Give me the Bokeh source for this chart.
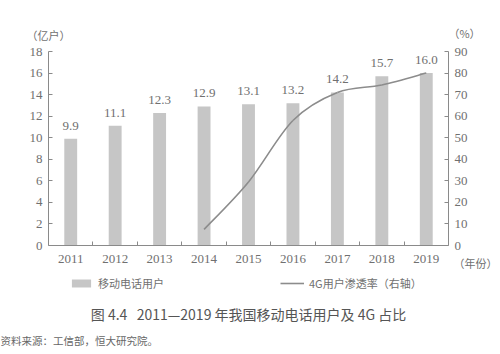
from bokeh.plotting import figure
from bokeh.models import (Range1d, LinearAxis, FixedTicker, Label, Legend,
                          LegendItem, ColumnDataSource)
from bokeh.core.properties import value
from bokeh.embed import file_html
from bokeh.resources import INLINE

# ---- data ----
years = ["2011", "2012", "2013", "2014", "2015", "2016", "2017", "2018", "2019"]
users = [9.9, 11.1, 12.3, 12.9, 13.1, 13.2, 14.2, 15.7, 16.0]          # 亿户
pen_years = ["2014", "2015", "2016", "2017", "2018", "2019"]
penetration = [7.5, 29.5, 58.0, 71.0, 74.5, 80.0]                      # %
left_ticks = [0, 2, 4, 6, 8, 10, 12, 14, 16, 18]
right_ticks = [0, 10, 20, 30, 40, 50, 60, 70, 80, 90]
user_labels = ["%.1f" % v for v in users]

SERIF = "Liberation Serif"
CJK = "Noto Sans CJK SC"
TXT = "#707070"
AX = "#8a8a8a"
BAR = "#c6c6c6"
LINE = "#8c8c8c"

# ---- layout geometry (pixels): plot area inside the 500x354 canvas ----
W, H = 500, 354
AREA_L, AREA_R, AREA_T, AREA_B = 48, 448, 51, 245
ncat = len(years)
kx = (AREA_R - AREA_L) / ncat
x_lo = -0.5 - AREA_L / kx
x_hi = ncat - 0.5 + (W - AREA_R) / kx
LMAX, RMAX = left_ticks[-1], right_ticks[-1]
ky_l = (AREA_B - AREA_T) / LMAX
ky_r = (AREA_B - AREA_T) / RMAX

p = figure(width=W, height=H, output_backend="svg", toolbar_location=None,
           x_range=Range1d(x_lo, x_hi),
           y_range=Range1d(-(H - AREA_B) / ky_l, LMAX + AREA_T / ky_l),
           min_border=0)
p.extra_y_ranges = {"pct": Range1d(-(H - AREA_B) / ky_r, RMAX + AREA_T / ky_r)}
p.outline_line_color = None
p.xgrid.visible = False
p.ygrid.visible = False
p.background_fill_color = "white"
p.border_fill_color = "white"

xpos = list(range(ncat))
src = ColumnDataSource(dict(x=xpos, top=users, lab=user_labels))
bars = p.vbar(x="x", top="top", width=0.29, source=src, fill_color=BAR,
              line_color=None)
p.text(x="x", y="top", text="lab", source=src, text_align="center",
       text_baseline="middle", y_offset=-13, text_font=value(SERIF),
       text_font_size="13px", text_color=TXT)

# smooth penetration curve through the data points (Catmull-Rom -> Bezier)
px = [years.index(y) for y in pen_years]
py = penetration
n = len(px)
x0s, y0s, x1s, y1s, cx0s, cy0s, cx1s, cy1s = [], [], [], [], [], [], [], []
for i in range(n - 1):
    pxm, pym = (px[i - 1], py[i - 1]) if i > 0 else (px[i], py[i])
    pxp, pyp = (px[i + 2], py[i + 2]) if i + 2 < n else (px[i + 1], py[i + 1])
    x0s.append(px[i]); y0s.append(py[i])
    x1s.append(px[i + 1]); y1s.append(py[i + 1])
    cx0s.append(px[i] + (px[i + 1] - pxm) / 6.0)
    cy0s.append(py[i] + (py[i + 1] - pym) / 6.0)
    cx1s.append(px[i + 1] - (pxp - px[i]) / 6.0)
    cy1s.append(py[i + 1] - (pyp - py[i]) / 6.0)
curve = p.bezier(x0=x0s, y0=y0s, x1=x1s, y1=y1s, cx0=cx0s, cy0=cy0s, cx1=cx1s,
                 cy1=cy1s, line_color=LINE, line_width=1.6, y_range_name="pct")

# ---- axes (fixed at the data edges of the chart area) ----
xa = p.xaxis[0]
xa.fixed_location = 0
xa.bounds = (-0.5, ncat - 0.5)
xa.ticker = FixedTicker(ticks=xpos, minor_ticks=[i + 0.5 for i in xpos[:-1]])
xa.major_label_overrides = {i: y for i, y in zip(xpos, years)}
xa.major_tick_in = 0
xa.major_tick_out = 0
xa.minor_tick_in = 4
xa.minor_tick_out = 0
xa.axis_line_color = AX
xa.minor_tick_line_color = AX
xa.major_label_standoff = 9
xa.major_label_text_font = SERIF
xa.major_label_text_font_size = "13px"
xa.major_label_text_color = TXT


def style_y(ax):
    ax.major_tick_in = 4
    ax.major_tick_out = 0
    ax.minor_tick_in = 0
    ax.minor_tick_out = 0
    ax.axis_line_color = AX
    ax.major_tick_line_color = AX
    ax.major_label_standoff = 6
    ax.major_label_text_font = SERIF
    ax.major_label_text_font_size = "13px"
    ax.major_label_text_color = TXT


ya = p.yaxis[0]
ya.fixed_location = -0.5
ya.bounds = (0, LMAX)
ya.ticker = FixedTicker(ticks=left_ticks, minor_ticks=[])
style_y(ya)
ra = LinearAxis(y_range_name="pct", fixed_location=ncat - 0.5, bounds=(0, RMAX),
                ticker=FixedTicker(ticks=right_ticks, minor_ticks=[]))
style_y(ra)
p.add_layout(ra, "right")


def lab(text, x, y, size="12px", font=CJK, align="center", color=TXT):
    # x, y: pixel position from the canvas' left / top edge
    p.add_layout(Label(x=x, y=H - y, x_units="screen", y_units="screen", text=text,
                       text_font=font, text_font_size=size, text_color=color,
                       text_align=align, text_baseline="middle"))


lab("（亿户）", 48, 34, size="11px")
lab("（%）", 464, 32, size="11px")
lab("（年份）", 453, 262, size="11px", align="left")
lab("图 4.4\u00a0\u00a0 2011—2019 年我国移动电话用户及 4G 占比", 248, 313,
    size="14px", color="#555555")
lab("资料来源：工信部，恒大研究院。", 0, 340, size="10.5px", align="left",
    color="#666666")

legend = Legend(items=[LegendItem(label="移动电话用户", renderers=[bars]),
                       LegendItem(label="4G用户渗透率（右轴）", renderers=[curve])],
                location=(69, H - 291), orientation="horizontal", padding=0,
                margin=0, spacing=116, glyph_width=24, glyph_height=10,
                label_height=10, label_standoff=5, label_text_font=CJK,
                label_text_font_size="11px", label_text_color=TXT,
                border_line_color=None, background_fill_alpha=0)
p.add_layout(legend, "center")

open("out.html", "w").write(file_html(p, INLINE))
